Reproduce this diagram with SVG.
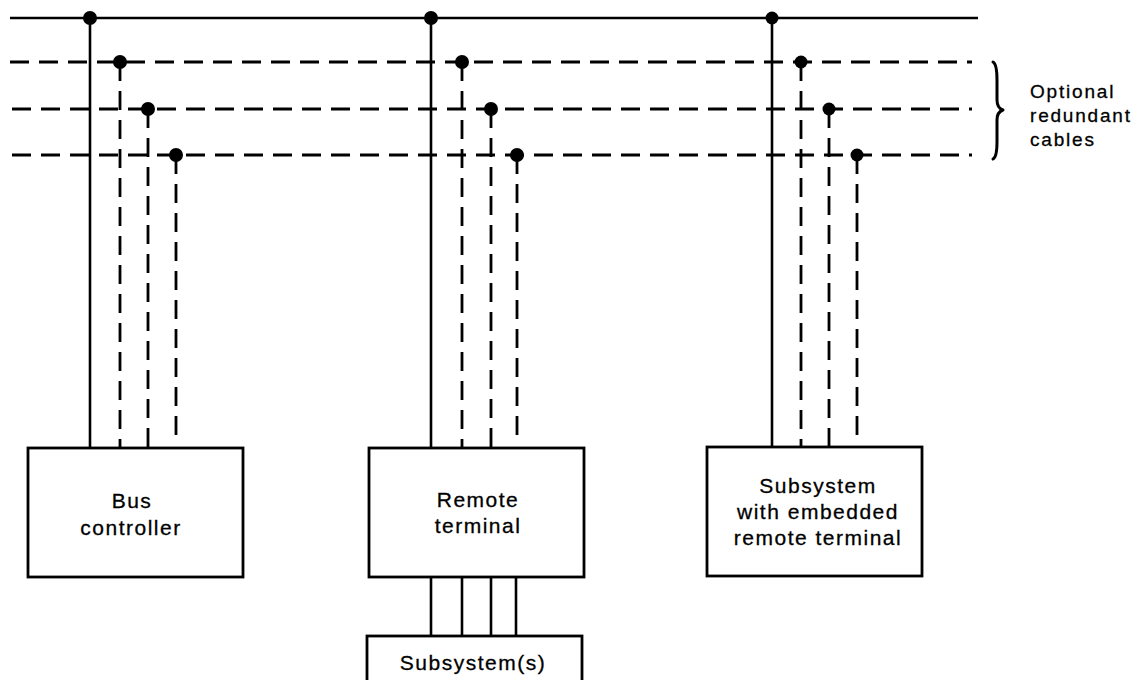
<svg xmlns="http://www.w3.org/2000/svg" width="1146" height="680" viewBox="0 0 1146 680">
<defs>
<style>
.solid{stroke:#000;stroke-width:2.6;fill:none}
.dash{stroke:#000;stroke-width:2.8;fill:none;stroke-dasharray:19 10}
.box{stroke:#000;stroke-width:2.8;fill:#fff}
.dot{fill:#000}
.lbl{font-family:"Liberation Sans",Arial,sans-serif;font-size:21px;letter-spacing:1.5px;fill:#000;text-anchor:middle;stroke:#000;stroke-width:0.3}
.side{font-family:"Liberation Sans",Arial,sans-serif;font-size:19px;letter-spacing:1.8px;fill:#000;stroke:#000;stroke-width:0.3}
</style>
</defs>
<rect width="1146" height="680" fill="#fff"/>
<g id="connectors">
<line class="solid" x1="10" y1="18" x2="978" y2="18"/>
<line class="dash" x1="10" y1="62" x2="972" y2="62"/>
<line class="dash" x1="12" y1="109" x2="972" y2="109"/>
<line class="dash" x1="12" y1="155" x2="972" y2="155"/>
<line class="solid" x1="90" y1="18" x2="90" y2="448"/>
<line class="dash" x1="120" y1="62" x2="120" y2="448"/>
<line class="dash" x1="148" y1="109" x2="148" y2="448"/>
<line class="dash" x1="176" y1="155" x2="176" y2="438"/>
<line class="solid" x1="431" y1="18" x2="431" y2="448"/>
<line class="dash" x1="462" y1="62" x2="462" y2="448"/>
<line class="dash" x1="491" y1="109" x2="491" y2="448"/>
<line class="dash" x1="517" y1="155" x2="517" y2="438"/>
<line class="solid" x1="772" y1="18" x2="772" y2="447"/>
<line class="dash" x1="801" y1="62" x2="801" y2="447"/>
<line class="dash" x1="829" y1="109" x2="829" y2="447"/>
<line class="dash" x1="857" y1="155" x2="857" y2="437"/>
<line class="solid" x1="431" y1="577" x2="431" y2="636"/>
<line class="solid" x1="462" y1="577" x2="462" y2="636"/>
<line class="solid" x1="491" y1="577" x2="491" y2="636"/>
<line class="solid" x1="516" y1="577" x2="516" y2="636"/>
<circle class="dot" cx="90" cy="18" r="7"/>
<circle class="dot" cx="120" cy="62" r="7"/>
<circle class="dot" cx="148" cy="109" r="7"/>
<circle class="dot" cx="176" cy="155" r="7"/>
<circle class="dot" cx="431" cy="18" r="7"/>
<circle class="dot" cx="462" cy="62" r="7"/>
<circle class="dot" cx="491" cy="109" r="7"/>
<circle class="dot" cx="517" cy="155" r="7"/>
<circle class="dot" cx="772" cy="18" r="6.5"/>
<circle class="dot" cx="801" cy="62" r="6.5"/>
<circle class="dot" cx="829" cy="109" r="6.5"/>
<circle class="dot" cx="857" cy="155" r="6.5"/>
<path d="M993,62 Q997,64 997,80 L997,100 Q997,108 1003,110 Q997,112 997,120 L997,142 Q997,157 993,159" fill="none" stroke="#000" stroke-width="3" stroke-linecap="round" stroke-linejoin="round"/>
</g>
<g id="bus-controller">
<rect class="box" x="28" y="448" width="215" height="129"/>
<text class="lbl" x="132" y="508">Bus</text>
<text class="lbl" x="131" y="535">controller</text>
</g>
<g id="remote-terminal">
<rect class="box" x="369" y="448" width="215" height="129"/>
<text class="lbl" x="478" y="507">Remote</text>
<text class="lbl" x="478" y="533">terminal</text>
</g>
<g id="subsystems">
<rect class="box" x="367" y="636" width="215" height="60"/>
<text class="lbl" x="473" y="670">Subsystem(s)</text>
</g>
<g id="embedded-rt">
<rect class="box" x="707" y="447" width="215" height="129"/>
<text class="lbl" x="818" y="493">Subsystem</text>
<text class="lbl" x="818" y="519">with embedded</text>
<text class="lbl" x="818" y="545">remote terminal</text>
</g>
<g id="redundant-label">
<text class="side" x="1030" y="98">Optional</text>
<text class="side" x="1030" y="122">redundant</text>
<text class="side" x="1030" y="146">cables</text>
</g>
</svg>
